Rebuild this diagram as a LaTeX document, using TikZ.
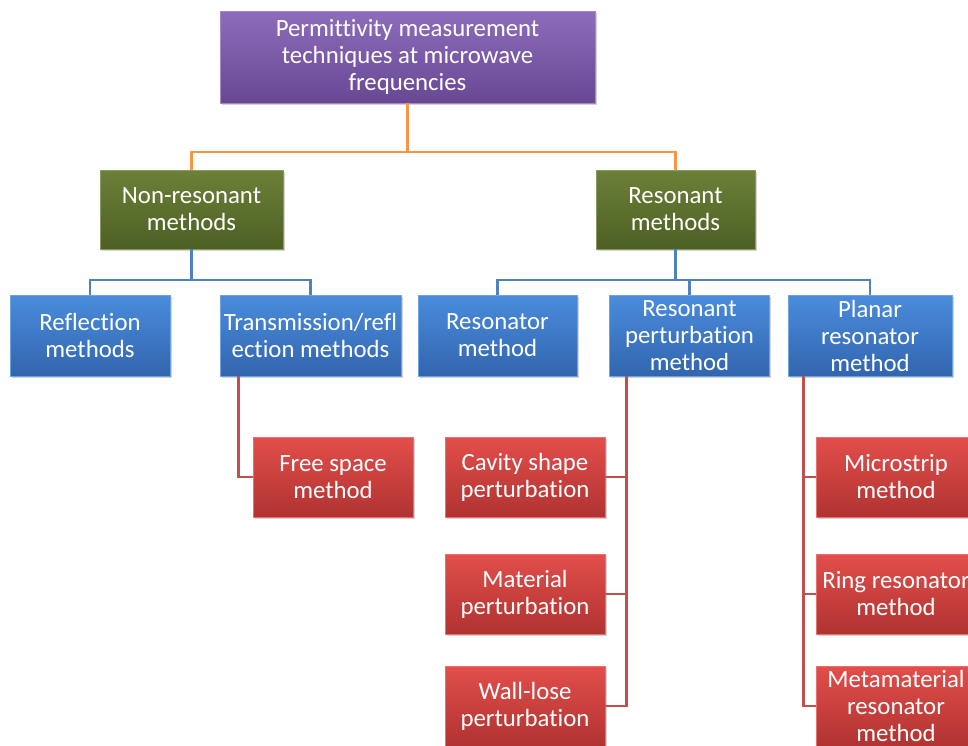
\documentclass[tikz,border=0pt]{standalone}
\usepackage{fontspec}
\setmainfont{Carlito}[Ligatures=NoCommon]
\usetikzlibrary{shadows,calc}
\definecolor{purT}{HTML}{8D6CBB}
\definecolor{purB}{HTML}{684893}
\definecolor{grnT}{HTML}{6C8039}
\definecolor{grnB}{HTML}{4D6023}
\definecolor{bluT}{HTML}{4A8CDC}
\definecolor{bluB}{HTML}{3265AE}
\definecolor{redT}{HTML}{E24E4B}
\definecolor{redB}{HTML}{B03331}
\definecolor{lnOr}{HTML}{F79646}
\definecolor{lnBl}{HTML}{4F81BD}
\definecolor{lnRd}{HTML}{C0504D}
\tikzset{
  box/.style={rectangle, align=center, text=white, inner sep=0pt,
    font=\fontsize{24.8}{27}\selectfont,
    drop shadow={opacity=0.35, shadow xshift=1.5pt, shadow yshift=-2pt}},
  purbox/.style={box, top color=purT, bottom color=purB, draw=purT!80!white, line width=0.6pt},
  grnbox/.style={box, top color=grnT, bottom color=grnB, draw=grnT!80!white, line width=0.6pt},
  blubox/.style={box, top color=bluT, bottom color=bluB, draw=bluT!80!white, line width=0.6pt},
  redbox/.style={box, top color=redT, bottom color=redB, draw=redT!80!white, line width=0.6pt},
  conn/.style={line width=2.7pt},
}
\begin{document}
\begin{tikzpicture}[x=1pt,y=-1pt]
\useasboundingbox (0,0) rectangle (968,745);
\begin{scope}
\clip (0,0) rectangle (968,745);
% nodes
\node[purbox, minimum width=375pt, minimum height=92pt] (top) at (407.5,57) {Permittivity measurement\\techniques at microwave\\frequencies};
\node[grnbox, minimum width=183pt, minimum height=79pt] (nonres) at (191.5,209.5) {Non-resonant\\methods};
\node[grnbox, minimum width=159pt, minimum height=79pt] (res) at (675.5,209.5) {Resonant\\methods};
\node[blubox, minimum width=160pt, minimum height=81pt] (refl) at (90,335.5) {Reflection\\methods};
\node[blubox, minimum width=181pt, minimum height=81pt] (trans) at (310.5,335.5) {Transmission/refl\\ection methods};
\node[blubox, minimum width=159pt, minimum height=81pt] (reso) at (497.5,335.5) {Resonator\\method};
\node[blubox, minimum width=160pt, minimum height=81pt] (pert) at (689.5,335.5) {Resonant\\perturbation\\method};
\node[blubox, minimum width=164pt, minimum height=81pt] (planar) at (870,335.5) {Planar\\resonator\\method};
\node[redbox, minimum width=160pt, minimum height=80pt] (free) at (333,477) {Free space\\method};
\node[redbox, minimum width=160pt, minimum height=80pt] (cavity) at (525,477) {Cavity shape\\perturbation};
\node[redbox, minimum width=160pt, minimum height=80pt] (material) at (525,594) {Material\\perturbation};
\node[redbox, minimum width=160pt, minimum height=80pt] (wall) at (525,706) {Wall-lose\\perturbation};
\node[redbox, minimum width=160pt, minimum height=80pt] (micro) at (896,477) {Microstrip\\method};
\node[redbox, minimum width=160pt, minimum height=80pt] (ring) at (896,594) {Ring resonator\\method};
\node[redbox, minimum width=160pt, minimum height=80pt] (meta) at (896,706) {Metamaterial\\resonator\\method};
% connectors
\coordinate (j1) at (407.5,152);
\draw[conn, lnOr] (top.south) -- (j1) -| (nonres.north);
\draw[conn, lnOr] (j1) -| (res.north);
\coordinate (j2) at (191.5,280);
\draw[conn, lnBl] (nonres.south) -- (j2) -| (refl.north);
\draw[conn, lnBl] (j2) -| (trans.north);
\coordinate (j3) at (675.5,280);
\draw[conn, lnBl] (res.south) -- (j3) -| (reso.north);
\draw[conn, lnBl] (j3) -| (pert.north);
\draw[conn, lnBl] (j3) -| (planar.north);
\coordinate (t0) at ($(trans.south west)+(19,0)$);
\draw[conn, lnRd] (t0) |- (free.west);
\coordinate (p0) at ($(pert.south west)+(17,0)$);
\draw[conn, lnRd] (p0) |- (wall.east);
\draw[conn, lnRd] (cavity.east) -- (cavity.east -| p0);
\draw[conn, lnRd] (material.east) -- (material.east -| p0);
\coordinate (q0) at ($(planar.south west)+(16,0)$);
\draw[conn, lnRd] (q0) |- (meta.west);
\draw[conn, lnRd] (micro.west) -- (micro.west -| q0);
\draw[conn, lnRd] (ring.west) -- (ring.west -| q0);
\end{scope}
\end{tikzpicture}
\end{document}
